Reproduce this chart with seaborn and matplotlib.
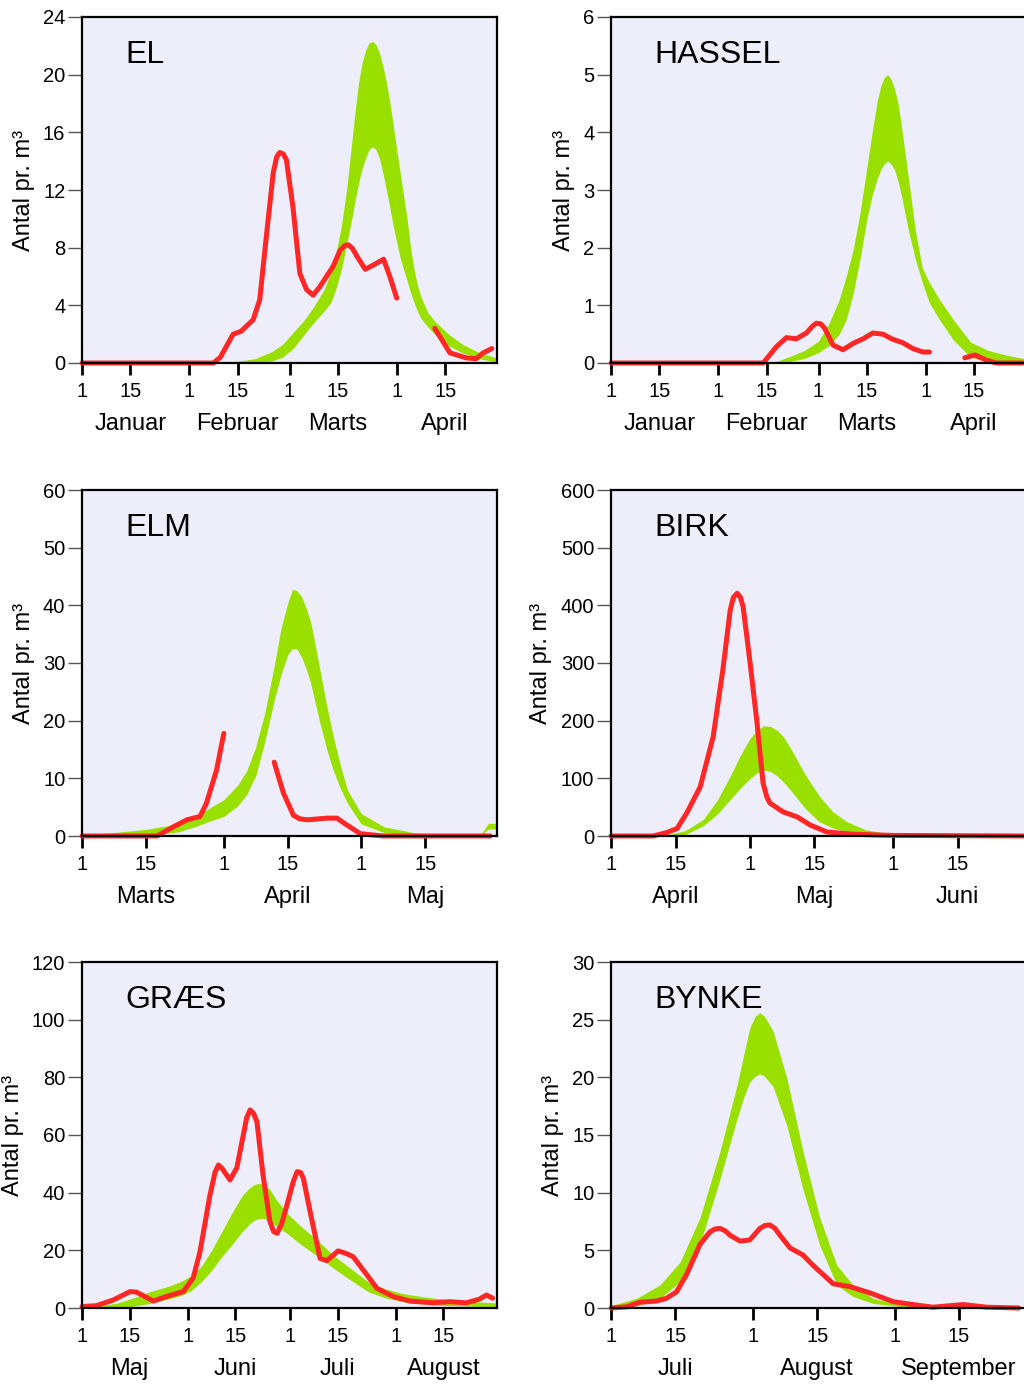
import matplotlib
matplotlib.use("Agg")
import matplotlib.pyplot as plt
import matplotlib.transforms as mtransforms
import seaborn as sns
import pandas as pd

# ==========================
#  DATA (days counted from the 1st of the first month shown)
# ==========================
# --- EL ---
el_months = ["Januar", "Februar", "Marts", "April"]
el_month_days = [31, 29, 31, 30]
el_band_x = [35, 40, 45, 50, 55, 58, 61, 64, 67, 70, 72, 73.5, 75, 76.5, 78, 79, 80, 81, 82, 83, 84, 85, 86, 87, 88,
             89, 90, 91, 92, 93, 94, 95, 96, 97, 98, 100, 102, 106, 110, 115, 120]
el_band_hi = [0, 0.05, 0.12, 0.3, 0.8, 1.3, 2.1, 2.9, 3.9, 5.1, 6.3, 7.7, 9.5, 12.0, 15.3, 17.5, 19.5, 20.8, 21.7, 22.2, 22.3, 22.1, 21.5, 20.6, 19.5,
              18.1, 16.5, 14.8, 13.2, 11.6, 10.0, 8.0, 6.5, 5.4, 4.6, 3.5, 2.9, 2.0, 1.3, 0.7, 0.35]
el_band_lo = [0, 0, 0.02, 0.05, 0.15, 0.4, 1.0, 1.9, 2.8, 3.6, 4.2, 5.2, 6.5, 8.2, 10.0, 11.3, 12.5, 13.5, 14.2, 14.8, 15.0, 14.8, 14.2, 13.2, 12.0,
              10.8, 9.5, 8.4, 7.3, 6.5, 5.7, 4.9, 4.2, 3.6, 3.1, 2.5, 2.0, 1.2, 0.7, 0.3, 0.05]
el_red1_x = [0, 38, 40, 43.7, 46, 49.5, 51.4, 53.4, 55.3, 56.3, 57.2, 58.2, 59.1, 61, 63, 64.9, 66.8, 68.8, 72.6, 74.6, 76, 77, 78.2, 79.5, 81.9, 84.3, 87.2, 89, 91]
el_red1_y = [0, 0, 0.4, 2.0, 2.2, 3.0, 4.4, 9.0, 13.2, 14.3, 14.6, 14.5, 14.1, 10.8, 6.2, 5.1, 4.7, 5.3, 6.7, 7.8, 8.15, 8.2, 7.95, 7.4, 6.5, 6.8, 7.2, 6.0, 4.5]
el_red2_x = [102, 106.4, 111.2, 114, 116, 118.5]
el_red2_y = [2.4, 0.7, 0.35, 0.3, 0.7, 1.0]

# --- HASSEL ---
hassel_months = ["Januar", "Februar", "Marts", "April"]
hassel_month_days = [31, 29, 31, 30]
hassel_band_x = [44, 48, 52, 56, 60, 63, 66, 68, 70, 72, 74, 75.5, 77, 78, 79, 80, 81, 82, 83, 84,
                 85, 86, 87, 88, 90, 92, 95, 99, 104, 109, 114, 120]
hassel_band_hi = [0, 0.03, 0.12, 0.22, 0.38, 0.68, 1.1, 1.5, 1.96, 2.6, 3.4, 4.0, 4.55, 4.8, 4.95, 5.0, 4.92, 4.75, 4.5, 4.1,
                  3.65, 3.2, 2.75, 2.3, 1.65, 1.4, 1.1, 0.75, 0.36, 0.22, 0.14, 0.07]
hassel_band_lo = [0, 0, 0.03, 0.08, 0.18, 0.3, 0.5, 0.75, 1.2, 1.8, 2.5, 2.9, 3.2, 3.35, 3.45, 3.5, 3.45, 3.35, 3.15, 2.9,
                  2.6, 2.3, 2.05, 1.8, 1.4, 1.05, 0.75, 0.4, 0.1, 0.02, 0, 0]
hassel_red1_x = [0, 44, 47.8, 50.7, 53.6, 56.5, 58.3, 59.4, 60.6, 61.8, 64.2, 67.1, 70, 72.9, 75.7, 78.6, 81.5, 84.4, 87.3, 90.2, 92.1]
hassel_red1_y = [0, 0, 0.28, 0.44, 0.42, 0.52, 0.64, 0.69, 0.68, 0.6, 0.31, 0.23, 0.34, 0.42, 0.52, 0.5, 0.41, 0.35, 0.25, 0.19, 0.19]
hassel_red2_x = [102.3, 105.2, 108.5, 111.4, 119]
hassel_red2_y = [0.09, 0.14, 0.05, 0, 0]

# --- ELM ---
elm_months = ["Marts", "April", "Maj"]
elm_month_days = [31, 30, 31]
elm_band_x = [0, 7, 14, 21, 25, 28, 31, 34, 36, 38, 40, 42, 43.5, 45, 46, 47, 48, 49, 50, 51,
              52, 53.5, 55, 56.5, 58, 61, 66, 73, 80, 87, 88.8, 91]
elm_band_hi = [0.2, 0.6, 1.15, 2.1, 3.5, 4.9, 6.3, 8.8, 11.3, 15.5, 21.5, 29.5, 36, 40.5, 42.8, 42.5, 41.5, 39.5, 37, 33,
               28.8, 22.5, 17, 12.2, 8, 3.9, 1.6, 0.5, 0.2, 0.05, 2.2, 2.2]
elm_band_lo = [0, 0, 0.1, 0.7, 1.7, 2.6, 3.4, 5.2, 7.2, 10.5, 16.5, 23.5, 28, 31.5, 32.5, 32.4, 31, 29, 26.5, 23,
               19.6, 15, 11.2, 8.2, 5.7, 2.1, 0.6, 0.1, 0, 0, 1.2, 1.2]
elm_red1_x = [0, 16.4, 20, 22.9, 25.8, 27.2, 29.4, 31]
elm_red1_y = [0, 0, 1.6, 2.8, 3.4, 5.7, 11.4, 17.8]
elm_red2_x = [42, 44, 46.2, 47.5, 49.2, 53.5, 55.7, 57.9, 60.8, 65.8, 89.2]
elm_red2_y = [12.8, 7.5, 3.6, 3.0, 2.8, 3.1, 3.1, 1.9, 0.4, 0, 0]

# --- BIRK ---
birk_months = ["April", "Maj", "Juni"]
birk_month_days = [30, 31, 30]
birk_band_x = [0, 8, 12, 16, 20, 23, 26, 28, 30, 31.5, 33, 34.5, 36, 37.5, 39, 42, 45, 48, 51, 55, 60, 70, 85, 90]
birk_band_hi = [0, 0, 2, 9, 29, 62, 107, 140, 168, 183, 191, 190, 183, 170, 150, 107, 70, 42, 25, 11, 4, 1, 0.5, 3]
birk_band_lo = [0, 0, 0, 2, 18, 38, 65, 83, 99, 109, 114, 112, 104, 92, 78, 48, 25, 14, 7, 2, 0, 0, 0, 0]
birk_red_x = [0, 9.1, 12.1, 14.3, 16.4, 19.3, 22.1, 24.2, 25.8, 26.5, 27.3, 28, 28.6, 30.1, 31.6, 32.9, 33.7, 34.4, 37.2, 40.3, 43.1, 46.7, 52.5, 61, 90]
birk_red_y = [0, 0, 6, 13, 40, 85, 172, 288, 392, 414, 421, 414, 397, 300, 196, 92, 68, 57, 42, 33, 19, 7, 3, 1, 0]

# --- GRÆS ---
graes_months = ["Maj", "Juni", "Juli", "August"]
graes_month_days = [31, 30, 31, 31]
graes_band_x = [0, 5, 10, 15, 20, 25, 29, 32, 35, 38, 41, 44, 47, 49, 50.5, 52, 53.5, 55, 57, 60,
                64, 69, 74, 79, 84, 89, 94, 100, 106, 114, 122]
graes_band_hi = [0.2, 0.8, 1.6, 3.5, 5.7, 7.4, 9.2, 11.2, 14.5, 20, 26.5, 33, 39, 41.5, 42.8, 43.2, 42.6, 41.2, 37.5, 33,
                 28.5, 23.5, 18, 13.5, 9, 6.6, 5, 3.9, 3, 2.3, 1.7]
graes_band_lo = [0, 0.05, 0.1, 0.6, 1.6, 3, 4.3, 6, 9.1, 13, 17.8, 22, 26.5, 29, 30.4, 31.1, 31.0, 30.2, 28.3, 26,
                 22.2, 18, 13.6, 9.5, 5.6, 3.5, 2.2, 1.4, 0.9, 0.6, 0.5]
graes_red_x = [0, 4.2, 9.2, 14.1, 16, 20.9, 24.8, 29.7, 32.6, 34.6, 37.5, 39, 40, 41, 43.4, 45.4, 47.3, 48.3, 49.3, 50.3, 51.3, 53.1, 55.1, 56.2, 57.2,
               58.5, 60.1, 62, 63.1, 64.1, 64.9, 66.9, 69.8, 71.8, 75.1, 77.5, 79.5, 83.6, 86.5, 91.4, 96.2, 103, 107.9, 112.7, 116.6, 118.6, 120.4]
graes_red_y = [0.5, 0.8, 2.8, 5.7, 5.5, 2.4, 4.0, 5.7, 10.4, 19.5, 39, 47, 49.6, 48.5, 44.4, 48.6, 60, 66, 68.7, 67.5, 64.6, 46, 30, 26.5, 25.9,
               29, 35.7, 44, 47.3, 47, 45, 33.4, 17.2, 16.4, 19.8, 18.9, 17.8, 11.4, 6.8, 3.9, 2.4, 1.8, 2.2, 1.8, 3.1, 4.5, 3.4]

# --- BYNKE ---
bynke_months = ["Juli", "August", "September"]
bynke_month_days = [31, 31, 30]
bynke_band_x = [0, 5.6, 10.7, 15.1, 19.4, 23.8, 27.5, 29, 30.3, 31.5, 32.5, 33.5, 35.4, 38.4, 41.9, 45.6, 49.3, 52.8, 57.2, 63.7, 74.6, 91]
bynke_band_hi = [0.2, 0.84, 2.0, 4.0, 7.8, 13.6, 19.3, 22.0, 24.3, 25.3, 25.6, 25.3, 24.0, 19.9, 13.6, 7.8, 3.7, 2.0, 0.84, 0.26, 0.1, 0.05]
bynke_band_lo = [0, 0.2, 0.84, 2.3, 5.5, 11.2, 16.4, 18.3, 19.6, 20.1, 20.3, 20.1, 19.2, 15.8, 10.3, 5.4, 2.0, 1.0, 0.4, 0.1, 0, 0]
bynke_red_x = [0, 3.4, 6.3, 9.9, 12.1, 14.3, 16.5, 19.4, 21.6, 22.7, 23.8, 24.9, 26, 28.2, 30.3, 31.4, 32.5, 33.6, 34.7, 35.8, 36.9, 39.1, 41.9, 44.1, 46.3,
               48.5, 52.2, 56.6, 61.6, 65.9, 70.3, 76.9, 82, 89]
bynke_red_y = [0, 0.1, 0.5, 0.6, 0.84, 1.4, 2.9, 5.5, 6.6, 6.85, 6.9, 6.7, 6.3, 5.8, 5.9, 6.4, 6.9, 7.15, 7.2, 6.9, 6.3, 5.2, 4.6, 3.7, 2.9,
               2.1, 1.85, 1.3, 0.55, 0.3, 0.07, 0.3, 0.07, 0]

# ==========================
#  STYLE
# ==========================
sns.set_theme(style="ticks")
plt.rcParams["font.family"] = ["Liberation Sans", "DejaVu Sans"]
plt.rcParams["text.color"] = "black"
plt.rcParams["axes.labelcolor"] = "black"
plt.rcParams["xtick.color"] = "black"
plt.rcParams["ytick.color"] = "black"

BG = "#EEEEFA"
GREEN = "#99E000"
RED = "#FF2626"

W, H = 1024, 1385


def draw_panel(rect_px, name, months, month_days, xmax, ymax, ystep, band_x, band_hi, band_lo, red_segments):
    left, top, width, height = rect_px
    ax = fig.add_axes([left / W, 1 - (top + height) / H, width / W, height / H])
    ax.set_facecolor(BG)

    ax.fill_between(band_x, band_lo, band_hi, color=GREEN, lw=0, zorder=1)

    rows = []
    for seg, (xs, ys) in enumerate(red_segments):
        for x, y in zip(xs, ys):
            rows.append({"day": x, "value": y, "seg": seg})
    df = pd.DataFrame(rows)
    sns.lineplot(data=df, x="day", y="value", units="seg", estimator=None, color=RED,
                 lw=3.6, ax=ax, zorder=2, clip_on=False, solid_capstyle="round",
                 solid_joinstyle="round", legend=False)

    ax.set_xlim(0, xmax)
    ax.set_ylim(0, ymax)

    starts = [0]
    for d in month_days[:-1]:
        starts.append(starts[-1] + d)
    ticks, labels = [], []
    for s in starts[:len(months)]:
        ticks += [s, s + 14]
        labels += ["1", "15"]
    ax.set_xticks(ticks)
    ax.set_xticklabels(labels)
    yticks = list(range(0, ymax + 1, ystep))
    ax.set_yticks(yticks)
    ax.set_yticklabels([str(v) for v in yticks])

    ax.tick_params(axis="x", length=8.5, width=2, color="black", labelsize=14.5, pad=5.5, labelcolor="black")
    ax.tick_params(axis="y", length=10, width=1, color="#555555", labelsize=14.5, pad=2, labelcolor="black")

    ax.set_xlabel("")
    ax.set_ylabel("Antal pr. m³", fontsize=17, labelpad=6, color="black")

    trans = mtransforms.blended_transform_factory(ax.transData, ax.transAxes)
    for s, m in zip(starts, months):
        ax.text(s + 14, -0.194, m, transform=trans, ha="center", va="baseline", fontsize=17, color="black")

    ax.text(0.104, 0.868, name, transform=ax.transAxes, ha="left", va="baseline", fontsize=23, color="black")

    for sp in ax.spines.values():
        sp.set_linewidth(1.6)
        sp.set_color("black")
        sp.set_visible(True)
        sp.set_zorder(3)
    return ax


fig = plt.figure(figsize=(W / 100, H / 100), dpi=100)

draw_panel((82, 17, 415, 346), "EL", el_months, el_month_days, 120, 24, 4,
           el_band_x, el_band_hi, el_band_lo,
           [(el_red1_x, el_red1_y), (el_red2_x, el_red2_y)])
draw_panel((611, 17, 415, 346), "HASSEL", hassel_months, hassel_month_days, 120, 6, 1,
           hassel_band_x, hassel_band_hi, hassel_band_lo,
           [(hassel_red1_x, hassel_red1_y), (hassel_red2_x, hassel_red2_y)])
draw_panel((82, 490, 415, 346), "ELM", elm_months, elm_month_days, 90.7, 60, 10,
           elm_band_x, elm_band_hi, elm_band_lo,
           [(elm_red1_x, elm_red1_y), (elm_red2_x, elm_red2_y)])
draw_panel((611, 490, 415, 346), "BIRK", birk_months, birk_month_days, 89.8, 600, 100,
           birk_band_x, birk_band_hi, birk_band_lo,
           [(birk_red_x, birk_red_y)])
draw_panel((82, 962, 415, 346), "GRÆS", graes_months, graes_month_days, 121.7, 120, 20,
           graes_band_x, graes_band_hi, graes_band_lo,
           [(graes_red_x, graes_red_y)])
draw_panel((611, 962, 415, 346), "BYNKE", bynke_months, bynke_month_days, 90.6, 30, 5,
           bynke_band_x, bynke_band_hi, bynke_band_lo,
           [(bynke_red_x, bynke_red_y)])

plt.savefig("out.png", dpi=100)
print("Saved: out.png")
